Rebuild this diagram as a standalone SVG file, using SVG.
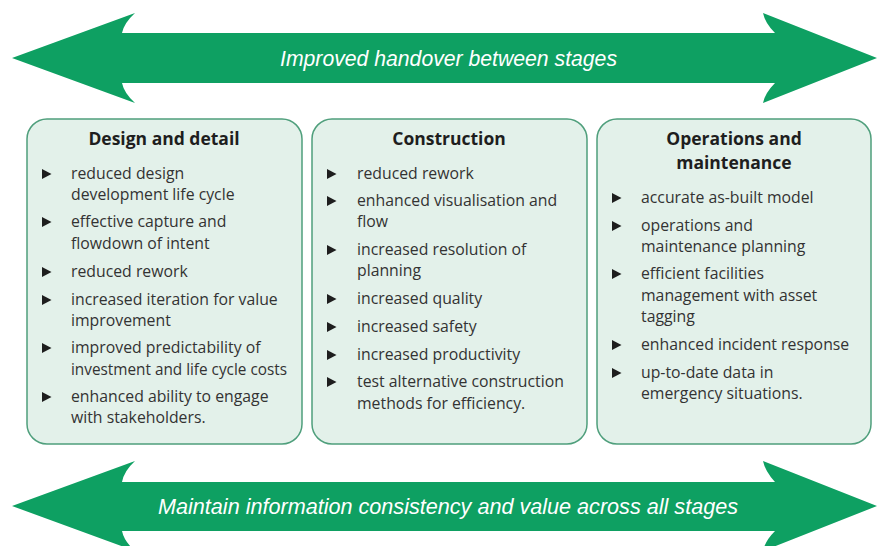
<svg xmlns="http://www.w3.org/2000/svg" width="877" height="546" viewBox="0 0 877 546">
<style>
.arrow{fill:#0ea062}
.band{font-family:"Liberation Sans",Arial,sans-serif;font-style:italic;font-size:22px;fill:#ffffff;text-anchor:middle}
.box{fill:#e3f1ea;stroke:#4f9f7c;stroke-width:1.5}
.title{font-family:"Open Sans","Liberation Sans",Arial,sans-serif;font-weight:bold;font-size:17.5px;fill:#1e1e1e;text-anchor:middle}
.item{font-family:"Open Sans","Liberation Sans",Arial,sans-serif;font-size:15.8px;fill:#333333}
.bul{fill:#1e1e1e}
</style>
<defs>
<path id="tri" d="M0,-5 L9.5,0 L0,5 Z"/>
</defs>
<g id="connectors">
<g id="top-arrow">
<path class="arrow" d="M12,58 L135,13 Q124,23 122,33 L775,33 Q765,23 763,13 L877,58 L763,103 Q765,93 775,83 L122,83 Q124,93 135,103 Z"/>
<text class="band" x="448.5" y="66" textLength="337" lengthAdjust="spacingAndGlyphs">Improved handover between stages</text>
</g>
<g id="bottom-arrow">
<path class="arrow" d="M12,506 L135,461 Q124,471 122,482 L775,482 Q765,471 763,461 L877,506 L763,551 Q765,541 775,531 L122,531 Q124,541 135,551 Z"/>
<text class="band" x="448" y="514" textLength="580" lengthAdjust="spacingAndGlyphs">Maintain information consistency and value across all stages</text>
</g>
</g>
<g id="design">
<rect class="box" x="27" y="119" width="275" height="325" rx="20"/>
<text class="title" x="164" y="145">Design and detail</text>
<use href="#tri" class="bul" x="42" y="174"/>
<use href="#tri" class="bul" x="42" y="222"/>
<use href="#tri" class="bul" x="42" y="272"/>
<use href="#tri" class="bul" x="42" y="300"/>
<use href="#tri" class="bul" x="42" y="348"/>
<use href="#tri" class="bul" x="42" y="397"/>
<text class="item" x="71" y="179">reduced design</text>
<text class="item" x="71" y="200">development life cycle</text>
<text class="item" x="71" y="227">effective capture and</text>
<text class="item" x="71" y="249">flowdown of intent</text>
<text class="item" x="71" y="277">reduced rework</text>
<text class="item" x="71" y="305">increased iteration for value</text>
<text class="item" x="71" y="326">improvement</text>
<text class="item" x="71" y="353">improved predictability of</text>
<text class="item" x="71" y="375" textLength="216" lengthAdjust="spacingAndGlyphs">investment and life cycle costs</text>
<text class="item" x="71" y="402">enhanced ability to engage</text>
<text class="item" x="71" y="423">with stakeholders.</text>
</g>
<g id="construction">
<rect class="box" x="312" y="119" width="275" height="325" rx="20"/>
<text class="title" x="449" y="145">Construction</text>
<use href="#tri" class="bul" x="327" y="174"/>
<use href="#tri" class="bul" x="327" y="201"/>
<use href="#tri" class="bul" x="327" y="250"/>
<use href="#tri" class="bul" x="327" y="299"/>
<use href="#tri" class="bul" x="327" y="327"/>
<use href="#tri" class="bul" x="327" y="355"/>
<use href="#tri" class="bul" x="327" y="382"/>
<text class="item" x="357" y="179">reduced rework</text>
<text class="item" x="357" y="206">enhanced visualisation and</text>
<text class="item" x="357" y="227">flow</text>
<text class="item" x="357" y="255">increased resolution of</text>
<text class="item" x="357" y="276">planning</text>
<text class="item" x="357" y="304">increased quality</text>
<text class="item" x="357" y="332">increased safety</text>
<text class="item" x="357" y="360">increased productivity</text>
<text class="item" x="357" y="387">test alternative construction</text>
<text class="item" x="357" y="409">methods for efficiency.</text>
</g>
<g id="operations">
<rect class="box" x="597" y="119" width="274" height="325" rx="20"/>
<text class="title" x="734" y="145">Operations and</text>
<text class="title" x="734" y="169">maintenance</text>
<use href="#tri" class="bul" x="612" y="198"/>
<use href="#tri" class="bul" x="612" y="226"/>
<use href="#tri" class="bul" x="612" y="274"/>
<use href="#tri" class="bul" x="612" y="345"/>
<use href="#tri" class="bul" x="612" y="373"/>
<text class="item" x="641" y="203">accurate as-built model</text>
<text class="item" x="641" y="231">operations and</text>
<text class="item" x="641" y="252">maintenance planning</text>
<text class="item" x="641" y="279">efficient facilities</text>
<text class="item" x="641" y="301">management with asset</text>
<text class="item" x="641" y="322">tagging</text>
<text class="item" x="641" y="350">enhanced incident response</text>
<text class="item" x="641" y="378">up-to-date data in</text>
<text class="item" x="641" y="399">emergency situations.</text>
</g>
</svg>
